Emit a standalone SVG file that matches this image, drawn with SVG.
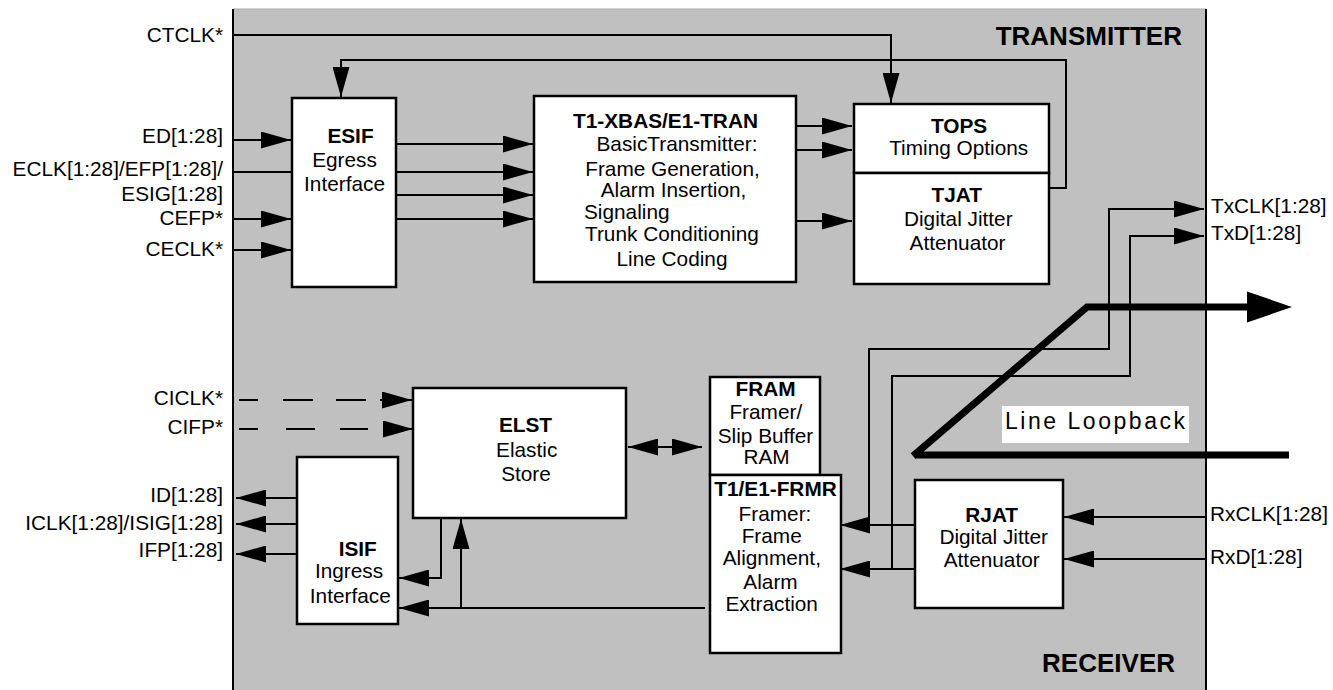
<svg xmlns="http://www.w3.org/2000/svg" width="1333" height="690" viewBox="0 0 1333 690">
<style>
text{font-family:"Liberation Sans",Arial,sans-serif;font-size:20.8px;fill:#000}
.b{font-weight:bold}
.m{text-anchor:middle}
.e{text-anchor:end}
.big{font-size:26px;font-weight:bold}
.box{fill:#fff;stroke:#000;stroke-width:2.5}
.w{fill:none;stroke:#000;stroke-width:2}
.a{marker-end:url(#ah)}
.dash{fill:none;stroke:#000;stroke-width:2}
.thick{fill:none;stroke:#000;stroke-width:7}
</style>
<defs>
<marker id="ah" markerUnits="userSpaceOnUse" viewBox="0 0 30 17" markerWidth="30" markerHeight="17" refX="30" refY="8.5" orient="auto-start-reverse">
<path d="M0,0 L30,8.5 L0,17 z" fill="#000"/>
</marker>
</defs>
<g id="frame">
<rect x="233" y="9" width="973" height="681" fill="#c0c0c0"/>
<line x1="233" y1="9" x2="1206" y2="9" stroke="#a8a8a8" stroke-width="1"/>
<line x1="233" y1="9" x2="233" y2="690" stroke="#000" stroke-width="2"/>
<line x1="1206" y1="9" x2="1206" y2="690" stroke="#000" stroke-width="2"/>
<text class="big" x="1182" y="45" text-anchor="end">TRANSMITTER</text>
<text class="big" x="1175" y="672" text-anchor="end">RECEIVER</text>
</g>
<g id="labels">
<text class="e" x="223" y="42">CTCLK*</text>
<text class="e" x="223" y="143">ED[1:28]</text>
<text class="e" x="223" y="176">ECLK[1:28]/EFP[1:28]/</text>
<text class="e" x="223" y="201">ESIG[1:28]</text>
<text class="e" x="223" y="225">CEFP*</text>
<text class="e" x="223" y="256">CECLK*</text>
<text class="e" x="223" y="405">CICLK*</text>
<text class="e" x="223" y="434">CIFP*</text>
<text class="e" x="223" y="502">ID[1:28]</text>
<text class="e" x="223" y="530">ICLK[1:28]/ISIG[1:28]</text>
<text class="e" x="223" y="557">IFP[1:28]</text>
<text x="1211" y="213">TxCLK[1:28]</text>
<text x="1211" y="240">TxD[1:28]</text>
<text x="1210" y="521">RxCLK[1:28]</text>
<text x="1210" y="564">RxD[1:28]</text>
</g>
<g id="connectors">
<polyline class="w a" points="232,35 891,35 891,103"/>
<polyline class="w a" points="1049,188 1066,188 1066,60 341,60 341,97"/>
<line class="w a" x1="233" y1="140" x2="291" y2="140"/>
<line class="w" x1="232" y1="172" x2="292" y2="172"/>
<line class="w a" x1="233" y1="219" x2="291" y2="219"/>
<line class="w a" x1="233" y1="250" x2="291" y2="250"/>
<line class="w a" x1="396" y1="144" x2="533" y2="144"/>
<line class="w a" x1="396" y1="172" x2="533" y2="172"/>
<line class="w a" x1="396" y1="195" x2="533" y2="195"/>
<line class="w a" x1="396" y1="219" x2="533" y2="219"/>
<line class="w a" x1="795" y1="126" x2="852" y2="126"/>
<line class="w a" x1="795" y1="150" x2="852" y2="150"/>
<line class="w a" x1="796" y1="221" x2="852" y2="221"/>
<line class="dash a" x1="239" y1="400" x2="412" y2="400" stroke-dasharray="19 25 30 23 30 14 40"/>
<line class="dash a" x1="239" y1="429" x2="413" y2="429" stroke-dasharray="19 28 29 25 28 15 40"/>
<line class="w a" x1="297" y1="498" x2="236" y2="498"/>
<line class="w a" x1="297" y1="524" x2="236" y2="524"/>
<line class="w a" x1="297" y1="554" x2="236" y2="554"/>
<polyline class="w a" points="441,517 441,578 399,578"/>
<line class="w a" x1="705" y1="608" x2="399" y2="608"/>
<line class="w a" x1="461" y1="608" x2="461" y2="519"/>
<line class="w" x1="628" y1="447" x2="702" y2="447" marker-start="url(#ah)" marker-end="url(#ah)"/>
<line class="w a" x1="915" y1="525" x2="840" y2="525"/>
<line class="w a" x1="915" y1="569" x2="840" y2="569"/>
<polyline class="w a" points="869,525 869,349 1109,349 1109,209 1204,209"/>
<polyline class="w a" points="892,569 892,376 1130,376 1130,236 1204,236"/>
<line class="w a" x1="1206" y1="517" x2="1064" y2="517"/>
<line class="w a" x1="1206" y1="559" x2="1064" y2="559"/>
</g>
<g id="loopback">
<path class="thick" d="M915,455 H1289"/>
<path class="thick" d="M913,456 L1087,307 H1250"/>
<polygon points="1247,291.5 1292,307 1247,322.5" fill="#000"/>
<rect x="1002" y="406" width="187" height="37" fill="#fff"/>
<text x="1005" y="428.5" style="font-size:23px" textLength="180" lengthAdjust="spacing">Line Loopback</text>
</g>
<g id="esif">
<rect class="box" x="292" y="98" width="104" height="189"/>
<text class="b m" x="350.5" y="143">ESIF</text>
<text class="m" x="344.5" y="167">Egress</text>
<text class="m" x="344.5" y="191">Interface</text>
</g>
<g id="t1xbas">
<rect class="box" x="534" y="96" width="262" height="186"/>
<text class="b m" x="665.5" y="127.5">T1-XBAS/E1-TRAN</text>
<text class="m" x="677" y="150.5">BasicTransmitter:</text>
<text class="m" x="672.5" y="175.5">Frame Generation,</text>
<text class="m" x="673.5" y="196.5">Alarm Insertion,</text>
<text x="584" y="219">Signaling</text>
<text x="585" y="241">Trunk Conditioning</text>
<text class="m" x="672" y="265.5">Line Coding</text>
</g>
<g id="tops">
<rect class="box" x="854" y="104" width="195" height="69"/>
<text class="b m" x="959" y="132.5">TOPS</text>
<text class="m" x="958.7" y="155">Timing Options</text>
</g>
<g id="tjat">
<rect class="box" x="854" y="173" width="195" height="111"/>
<text class="b m" x="956.7" y="201.5">TJAT</text>
<text class="m" x="958.3" y="226">Digital Jitter</text>
<text class="m" x="957.5" y="249.5">Attenuator</text>
</g>
<g id="elst">
<rect class="box" x="413" y="388" width="213" height="130"/>
<text class="b m" x="525.5" y="432">ELST</text>
<text class="m" x="526.7" y="457">Elastic</text>
<text class="m" x="526" y="481">Store</text>
</g>
<g id="fram">
<rect class="box" x="710" y="377" width="110" height="98"/>
<text class="b m" x="765.5" y="395.5">FRAM</text>
<text class="m" x="765.8" y="419">Framer/</text>
<text class="m" x="765.5" y="443">Slip Buffer</text>
<text class="m" x="766.5" y="464">RAM</text>
</g>
<g id="frmr">
<rect class="box" x="710" y="475" width="131" height="178"/>
<text class="b m" x="775.5" y="495.5">T1/E1-FRMR</text>
<text class="m" x="775" y="520.5">Framer:</text>
<text class="m" x="771.7" y="543">Frame</text>
<text class="m" x="771.8" y="565">Alignment,</text>
<text class="m" x="770.5" y="589">Alarm</text>
<text class="m" x="771.7" y="611">Extraction</text>
</g>
<g id="isif">
<rect class="box" x="297" y="457" width="101" height="167"/>
<text class="b m" x="357.7" y="555.5">ISIF</text>
<text class="m" x="349" y="578">Ingress</text>
<text class="m" x="350.3" y="602.5">Interface</text>
</g>
<g id="rjat">
<rect class="box" x="915" y="480" width="148" height="128"/>
<text class="b m" x="991.7" y="521.5">RJAT</text>
<text class="m" x="993.7" y="544">Digital Jitter</text>
<text class="m" x="991.7" y="566.5">Attenuator</text>
</g>
</svg>
